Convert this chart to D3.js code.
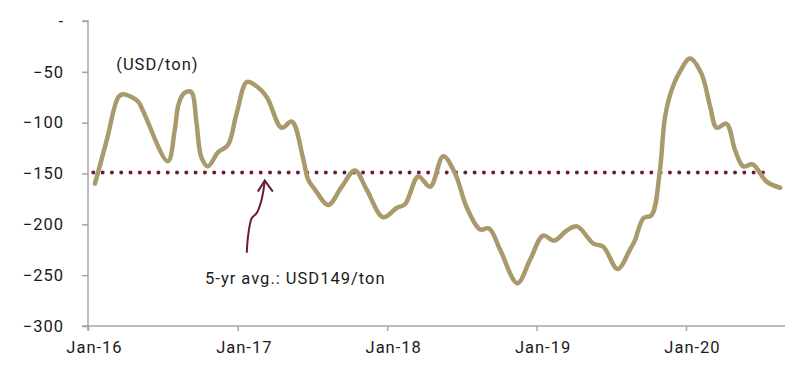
<!DOCTYPE html>
<html>
<head>
<meta charset="utf-8">
<script src="https://cdn.jsdelivr.net/npm/d3@7"></script>
<style>
  body { margin: 0; background: #fff; }
  svg text { font-family: Roboto, "DejaVu Sans", sans-serif; fill: #1a1a1a; letter-spacing: 1px; }
</style>
</head>
<body>
<div id="chart"></div>
<script>
// data (date, USD/ton)
const dates = [
  "2016-01-18", "2016-02-16", "2016-03-15", "2016-03-27", "2016-05-02", "2016-05-14",
  "2016-07-14", "2016-07-31", "2016-08-08", "2016-08-17", "2016-08-27", "2016-09-10",
  "2016-09-22", "2016-10-04", "2016-10-20", "2016-11-14", "2016-12-08", "2016-12-29",
  "2017-01-23", "2017-02-12", "2017-03-13", "2017-04-18", "2017-05-13", "2017-06-09",
  "2017-06-22", "2017-07-09", "2017-08-10", "2017-09-12", "2017-10-14", "2017-11-12",
  "2017-12-22", "2018-01-24", "2018-02-14", "2018-03-18", "2018-04-16", "2018-05-18",
  "2018-06-16", "2018-07-14", "2018-08-16", "2018-09-07", "2018-10-04", "2018-11-15",
  "2018-12-16", "2019-01-17", "2019-02-13", "2019-03-16", "2019-04-10", "2019-05-20",
  "2019-06-13", "2019-07-18", "2019-08-17", "2019-08-29", "2019-09-19", "2019-10-09",
  "2019-10-29", "2019-11-11", "2019-11-27", "2019-12-17", "2020-01-11", "2020-02-08",
  "2020-02-29", "2020-03-16", "2020-04-09", "2020-04-30", "2020-05-20", "2020-06-12",
  "2020-07-16", "2020-08-18"
];
const spread = [
  -160, -117, -75, -72, -79, -88,
  -138, -107, -84, -74, -70, -70,
  -100, -134, -143, -129, -122, -91,
  -60, -63, -75, -105, -99, -134,
  -156, -166, -181, -163, -147, -166,
  -193, -184, -180, -153, -163, -133,
  -150, -183, -205, -204, -225, -258,
  -235, -211, -216, -206, -202, -219,
  -222, -244, -225, -216, -194, -191,
  -148, -94, -68, -50, -37, -52,
  -84, -105, -101, -127, -143, -141,
  -158, -164
];
const avg5yr = -149;
const yTicks = [0, -50, -100, -150, -200, -250, -300];
const xTicks = ["2016-01-01", "2017-01-01", "2018-01-01", "2019-01-01", "2020-01-01"];
const avgLabel = "5-yr avg.: USD149/ton";
const unitLabel = "(USD/ton)";

const width = 800, height = 373;
const margin = { top: 21, right: 15, bottom: 47, left: 88 };
const fontSize = 16.5;

const parse = d3.timeParse("%Y-%m-%d");
const data = dates.map((d, i) => ({ date: parse(d), value: spread[i] }));

const x = d3.scaleTime()
  .domain([parse("2016-01-01"), parse("2020-08-30")])
  .range([margin.left, width - margin.right]);
const y = d3.scaleLinear()
  .domain([-300, 0])
  .range([height - margin.bottom, margin.top]);

const svg = d3.select("#chart").append("svg")
  .attr("width", width)
  .attr("height", height);

// y axis
const yAxis = svg.append("g")
  .attr("transform", `translate(${margin.left},0)`)
  .call(d3.axisLeft(y).tickValues(yTicks).tickSize(6).tickPadding(18)
    .tickFormat(d => d === 0 ? "-" : d3.format("d")(d)));
// x axis
const xAxis = svg.append("g")
  .attr("transform", `translate(0,${height - margin.bottom})`)
  .call(d3.axisBottom(x).tickValues(xTicks.map(parse)).tickSize(5).tickPadding(10)
    .tickFormat(d3.timeFormat("%b-%y")));

[yAxis, xAxis].forEach(g => {
  g.select(".domain").attr("stroke", "#a6a6a6").attr("stroke-width", 1.5);
  g.selectAll(".tick line").attr("stroke", "#a6a6a6").attr("stroke-width", 1.5);
  g.selectAll(".tick text").attr("font-size", fontSize).attr("fill", "#1a1a1a")
    .style("font-family", "Roboto, sans-serif");
});
xAxis.selectAll(".tick text").attr("dx", 6);
yAxis.select(".domain").attr("d", `M-6,${y(0)}H0V${y(-300)}H-6`);
xAxis.select(".domain").attr("d", `M${x.range()[0]},5V0H${x.range()[1]}`);

// 5-yr average, dotted
svg.append("line")
  .attr("x1", x(parse("2016-01-14")))
  .attr("x2", x(parse("2020-07-29")))
  .attr("y1", y(avg5yr))
  .attr("y2", y(avg5yr))
  .attr("stroke", "#6e1a3a")
  .attr("stroke-width", 4)
  .attr("stroke-linecap", "round")
  .attr("stroke-dasharray", "0 9.3");

// main series
const line = d3.line()
  .x(d => x(d.date))
  .y(d => y(d.value))
  .curve(d3.curveCatmullRom.alpha(0.5));

svg.append("path")
  .datum(data)
  .attr("fill", "none")
  .attr("stroke", "#a99a6b")
  .attr("stroke-width", 4.5)
  .attr("stroke-linejoin", "round")
  .attr("stroke-linecap", "round")
  .attr("d", line);

// annotation arrow (points in data space)
const arrowPts = [
  ["2017-01-23", -228], ["2017-01-26", -212], ["2017-02-04", -194],
  ["2017-02-16", -189], ["2017-02-28", -176], ["2017-03-08", -157]
].map(([d, v]) => [x(parse(d)), y(v)]);
svg.append("path")
  .attr("d", d3.line().curve(d3.curveCatmullRom)(arrowPts))
  .attr("fill", "none")
  .attr("stroke", "#6e1a3a")
  .attr("stroke-width", 2);
const tip = arrowPts[arrowPts.length - 1];
svg.append("path")
  .attr("d", `M${tip[0] - 7},${tip[1] + 11}L${tip[0]},${tip[1]}L${tip[0] + 8},${tip[1] + 11}`)
  .attr("fill", "none")
  .attr("stroke", "#6e1a3a")
  .attr("stroke-width", 2);

svg.append("text")
  .attr("x", x(parse("2016-10-13")))
  .attr("y", y(-259))
  .attr("font-size", fontSize)
  .text(avgLabel);

svg.append("text")
  .attr("x", x(parse("2016-03-10")))
  .attr("y", y(-48))
  .attr("font-size", fontSize)
  .text(unitLabel);
</script>
</body>
</html>
